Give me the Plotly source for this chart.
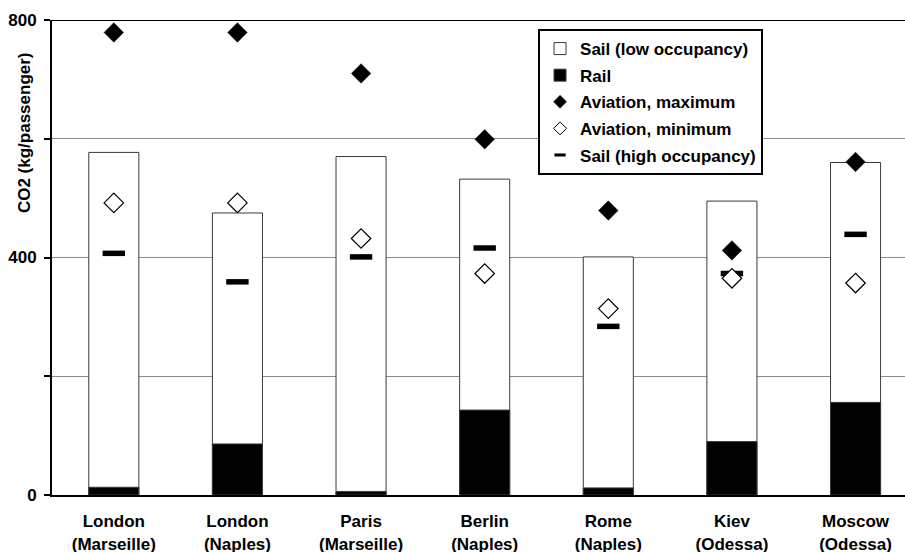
import plotly.graph_objects as go

# Routes (origin, destination port)
routes = [
    "London<br>(Marseille)",
    "London<br>(Naples)",
    "Paris<br>(Marseille)",
    "Berlin<br>(Naples)",
    "Rome<br>(Naples)",
    "Kiev<br>(Odessa)",
    "Moscow<br>(Odessa)",
]

# CO2 emissions, kg per passenger
sail_low_occupancy = [577, 475, 570, 532, 401, 495, 560]
rail = [13, 86, 6, 143, 12, 90, 156]
aviation_max = [779, 779, 710, 599, 479, 412, 561]
aviation_min = [492, 492, 432, 373, 314, 365, 357]
sail_high_occupancy = [407, 359, 401, 416, 284, 373, 439]

# Y axis ticks every 200, labels only at 0 / 400 / 800
y_tickvals = [0, 200, 400, 600, 800]
y_ticktext = ["0", "", "400", "", "800"]

FONT = "Liberation Sans, Arial, Helvetica, sans-serif"
FS = 17
BAR_EDGE = "#3a3a3a"

x = list(range(len(routes)))
fig = go.Figure()

# Bars (overlaid: rail in front of the low-occupancy sail bar)
fig.add_trace(go.Bar(
    x=x, y=sail_low_occupancy, name="Sail (low occupancy)", width=0.405,
    marker=dict(color="white", line=dict(color=BAR_EDGE, width=1)),
    legendgroup="g1",
))
fig.add_trace(go.Bar(
    x=x, y=rail, name="Rail", width=0.405,
    marker=dict(color="black", line=dict(color=BAR_EDGE, width=1)),
    legendgroup="g2",
))

# Point markers (legend handled by the smaller-symbol entries below)
fig.add_trace(go.Scatter(
    x=x, y=aviation_max, mode="markers", showlegend=False,
    marker=dict(symbol="diamond", size=15, color="black",
                line=dict(color="black", width=0.5)),
))
fig.add_trace(go.Scatter(
    x=x, y=sail_high_occupancy, mode="markers", showlegend=False,
    marker=dict(symbol="line-ew", size=16,
                line=dict(color="black", width=5.5)),
))
fig.add_trace(go.Scatter(
    x=x, y=aviation_min, mode="markers", showlegend=False,
    marker=dict(symbol="diamond", size=15, color="white",
                line=dict(color="black", width=1.2)),
))

# Legend entries with compact symbols
fig.add_trace(go.Scatter(
    x=[None], y=[None], mode="markers", name="Aviation, maximum", legendgroup="g3",
    marker=dict(symbol="diamond", size=10, color="black",
                line=dict(color="black", width=0.5)),
))
fig.add_trace(go.Scatter(
    x=[None], y=[None], mode="markers", name="Aviation, minimum", legendgroup="g4",
    marker=dict(symbol="diamond", size=10, color="white",
                line=dict(color="black", width=1)),
))
fig.add_trace(go.Scatter(
    x=[None], y=[None], mode="markers", name="Sail (high occupancy)", legendgroup="g5",
    marker=dict(symbol="line-ew", size=8,
                line=dict(color="black", width=3)),
))

fig.update_layout(
    width=905, height=552,
    margin=dict(l=52, r=0, t=20, b=57),
    paper_bgcolor="white", plot_bgcolor="white",
    barmode="overlay",
    font=dict(family=FONT, size=FS, color="black", weight="bold"),
    legend=dict(
        x=0.5698, y=0.981, xanchor="left", yanchor="top",
        bgcolor="white", bordercolor="black", borderwidth=2,
        font=dict(family=FONT, size=FS, color="black", weight="bold"),
        traceorder="grouped", tracegroupgap=1.5, itemsizing="trace",
    ),
    xaxis=dict(
        range=[-0.5, 6.4], automargin=False,
        tickmode="array", tickvals=x, ticktext=routes,
        ticks="", showgrid=False, zeroline=False,
        showline=True, linecolor="black", linewidth=2,
        ticklabelstandoff=10,
        tickfont=dict(family=FONT, size=FS, color="black", weight="bold"),
    ),
    yaxis=dict(
        range=[0, 800], automargin=False,
        tickmode="array", tickvals=y_tickvals, ticktext=y_ticktext,
        ticks="outside", ticklen=6, tickwidth=1.5, tickcolor="black",
        showgrid=True, gridcolor="#8a8a8a", gridwidth=1,
        zeroline=False,
        showline=True, linecolor="black", linewidth=2,
        ticklabelstandoff=4,
        tickfont=dict(family=FONT, size=FS, color="black", weight="bold"),
    ),
    shapes=[
        dict(type="line", xref="paper", yref="y", x0=0, x1=1, y0=800, y1=800,
             line=dict(color="black", width=2)),
    ],
    annotations=[
        dict(text="CO2 (kg/passenger)", xref="paper", yref="paper",
             x=-0.0328, y=0.762, xanchor="center", yanchor="middle",
             textangle=-90, showarrow=False,
             font=dict(family=FONT, size=FS, color="black", weight="bold")),
    ],
)

fig.write_html("out.html")
